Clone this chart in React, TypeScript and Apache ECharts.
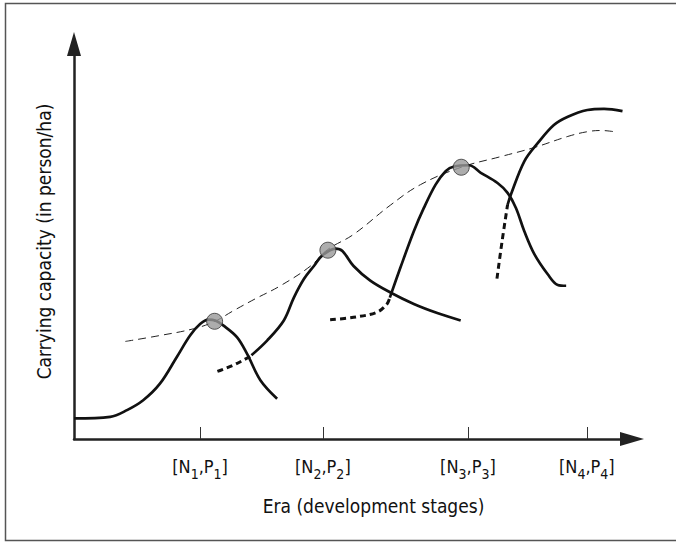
import React, { useEffect, useRef } from "react";
import * as echarts from "echarts";

// Stage tick positions on the era axis (arbitrary 0-100 scale) and their subscripts
const stagePositions = [22.6, 44.6, 70.6, 91.9];
const stageSubscripts = ["1", "2", "3", "4"];

// Carrying-capacity envelope (thin dashed)
const envelope: [number, number][] = [
  [9.2, 24.7], [15.4, 26.2], [21.4, 27.9], [25.1, 29.7], [28.6, 32.5], [32.5, 35.5],
  [37.0, 38.8], [42.4, 43.8], [45.4, 47.9], [50.1, 51.8], [56.7, 59.2], [62.1, 64.4],
  [69.4, 68.8], [76.5, 71.5], [82.5, 73.8], [88.5, 76.6], [92.0, 77.8], [94.5, 78.1], [96.8, 77.8],
];

// Stage 1 curve (solid)
const stage1: [number, number][] = [
  [0, 5.2], [6.5, 5.6], [9.5, 7.3], [12.4, 9.8], [15.4, 14.0], [18.4, 20.7], [20.8, 26.2],
  [22.6, 29.1], [24.1, 30.2], [25.3, 30.0], [26.8, 28.7], [29.2, 25.8], [31.0, 21.6],
  [33.4, 14.9], [36.4, 10.2],
];

// Stage 2 curve: emerging part (dotted) and main part (solid)
const stage2Emerging: [number, number][] = [
  [25.7, 17.1], [28.4, 18.6], [31.3, 20.7], [31.8, 21.2],
];
const stage2: [number, number][] = [
  [31.8, 21.2], [34.6, 24.9], [37.6, 30.0], [39.4, 35.8], [41.2, 40.5], [43.0, 43.8],
  [44.5, 46.5], [46.9, 48.2], [48.1, 47.6], [50.1, 43.8], [53.1, 40.1], [56.7, 37.1],
  [60.9, 34.2], [65.1, 31.9], [69.3, 30.0],
];

// Stage 3 curve
const stage3Emerging: [number, number][] = [
  [45.9, 30.2], [50.1, 30.8], [54.3, 32.1], [56.1, 34.2], [56.6, 35.8],
];
const stage3: [number, number][] = [
  [56.6, 35.8], [58.5, 43.4], [60.9, 52.6], [62.7, 58.5], [64.8, 64.4], [66.6, 67.8],
  [68.1, 69.0], [70.8, 69.3], [72.9, 67.4], [75.9, 64.8], [77.7, 62.3], [79.2, 58.5],
  [80.7, 52.6], [82.5, 46.8], [84.9, 41.7], [86.7, 39.0], [88.2, 38.8],
];

// Stage 4 curve
const stage4Emerging: [number, number][] = [
  [75.8, 40.6], [76.7, 49.9], [77.7, 59.3],
];
const stage4: [number, number][] = [
  [77.7, 59.3], [78.3, 61.9], [80.7, 70.3], [83.1, 74.9], [86.0, 79.5], [88.5, 81.6],
  [92.0, 83.3], [95.0, 83.6], [98.3, 83.0],
];

// Peak points [N_i, P_i]
const peaks: [number, number][] = [
  [25.2, 29.8], [45.5, 47.8], [69.4, 68.8],
];

const FONT = "'Liberation Sans Narrow', 'DejaVu Sans Condensed', 'Liberation Sans', sans-serif";

export default function App() {
  const ref = useRef<HTMLDivElement>(null);
  useEffect(() => {
    if (!ref.current) return;
    const chart = echarts.init(ref.current, null, { renderer: "svg" });
    const solid = { color: "#111", width: 2.7, type: "solid" as const };
    const dotted = { color: "#111", width: 3, type: [6, 4] as any };
    const lineSeries = (name: string, data: [number, number][], lineStyle: any, smooth = 0.35) => ({
      name,
      type: "line",
      data,
      smooth,
      showSymbol: false,
      symbol: "none",
      lineStyle,
      silent: true,
      z: 3,
    });
    chart.setOption({
      animation: false,
      grid: { left: 74, top: 44, width: 558, height: 395 },
      graphic: [
        {
          type: "rect",
          shape: { x: 5.5, y: 3.5, width: 680, height: 537 },
          style: { fill: "none", stroke: "#555", lineWidth: 1.5 },
          silent: true,
        },
      ],
      xAxis: {
        type: "value",
        min: 0,
        max: 100,
        name: "Era (development stages)",
        nameLocation: "middle",
        nameGap: 57,
        nameTextStyle: { fontFamily: FONT, fontSize: 19, color: "#111", padding: [0, 0, 0, 41] },
        axisLine: {
          show: true,
          symbol: ["none", "triangle"],
          symbolSize: [14, 24],
          lineStyle: { color: "#222", width: 2.5 },
        },
        axisTick: {
          show: true,
          inside: true,
          length: 12,
          customValues: stagePositions,
          lineStyle: { color: "#333", width: 1 },
        },
        axisLabel: {
          show: true,
          customValues: stagePositions,
          margin: 18,
          formatter: (v: number) => {
            let idx = 0;
            stagePositions.forEach((p, i) => {
              if (Math.abs(p - v) < Math.abs(stagePositions[idx] - v)) idx = i;
            });
            const s = stageSubscripts[idx];
            return `{m|[N}{s|${s}}{m|,P}{s|${s}}{m|]}`;
          },
          rich: {
            m: { fontFamily: FONT, fontSize: 18, lineHeight: 18, color: "#111", verticalAlign: "top" },
            s: { fontFamily: FONT, fontSize: 14, lineHeight: 14, color: "#111", verticalAlign: "top", padding: [10, 0, 0, 0] },
          },
        },
        splitLine: { show: false },
      },
      yAxis: {
        type: "value",
        min: 0,
        max: 100,
        name: "Carrying capacity (in person/ha)",
        nameLocation: "middle",
        nameGap: 21,
        nameTextStyle: { fontFamily: FONT, fontSize: 19, color: "#111" },
        axisLine: {
          show: true,
          symbol: ["none", "triangle"],
          symbolSize: [14, 24],
          lineStyle: { color: "#222", width: 2.5 },
        },
        axisTick: { show: false },
        axisLabel: { show: false },
        splitLine: { show: false },
      },
      series: [
        lineSeries("Envelope", envelope, { color: "#222", width: 1, type: [8, 5] }, 0.4),
        lineSeries("Stage 1", stage1, solid),
        lineSeries("Stage 2 emerging", stage2Emerging, dotted),
        lineSeries("Stage 2", stage2, solid),
        lineSeries("Stage 3 emerging", stage3Emerging, dotted),
        lineSeries("Stage 3", stage3, solid),
        lineSeries("Stage 4 emerging", stage4Emerging, dotted),
        lineSeries("Stage 4", stage4, solid),
        {
          name: "Peaks",
          type: "scatter",
          data: peaks,
          symbol: "circle",
          symbolSize: 16,
          itemStyle: { color: "#999", borderColor: "#333", borderWidth: 1 },
          silent: true,
          z: 5,
        },
      ],
    });
    return () => chart.dispose();
  }, []);
  return (
    <div
      ref={ref}
      style={{ position: "absolute", left: 0, top: 0, width: 676, height: 542, background: "#fff" }}
    />
  );
}
